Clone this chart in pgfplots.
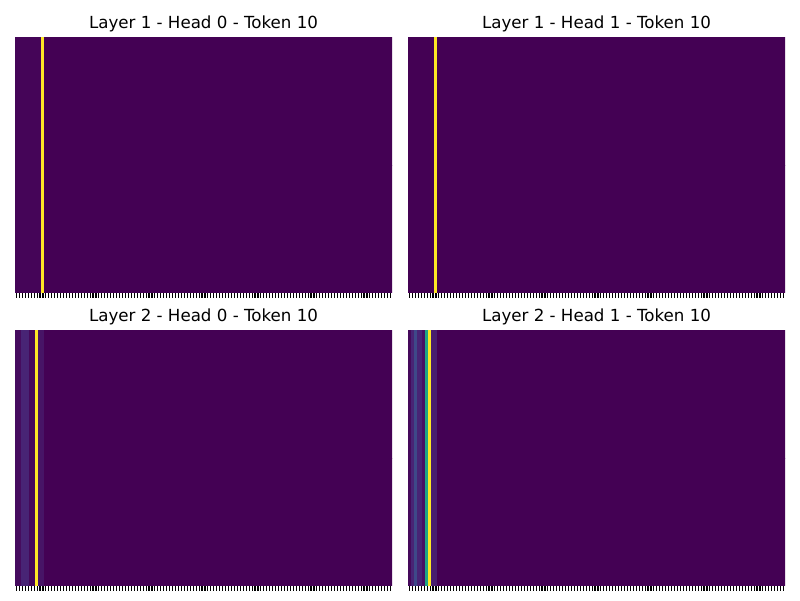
\documentclass[border=0pt]{standalone}
\usepackage{pgfplots}
\pgfplotsset{compat=1.18}
\usepackage{fontspec}
\setmainfont{DejaVu Sans}
\begin{document}
\begin{tikzpicture}
\pgfplotsset{
 hm/.style={
  scale only axis, width=282.75pt, height=192pt, anchor=north west,
  xmin=-0.5, xmax=127.5, ymin=-0.5, ymax=1.5, enlargelimits=false,
  axis line style={draw=none},
  xtick={0,1,...,127}, xticklabel={\relax}, xtick pos=bottom, xtick align=outside,
  major tick length=3.65pt, every tick/.style={black, line width=0.83pt},
  ytick=\empty,
  colormap/viridis, point meta min=0, point meta max=1,
  every axis title/.style={at={(0.5,1)}, anchor=base, yshift=6.25pt, font=\fontsize{12.5}{15}\selectfont},
 },
 hmplot/.style={matrix plot*, mesh/cols=128, mesh/rows=2, mesh/ordering=x varies, point meta=explicit}
}
\path[fill=white] (0,0) rectangle (600pt,-450pt);
% Layer 1 - Head 0
\begin{axis}[hm, at={(11.25pt,-27.75pt)}, title={Layer 1 - Head 0 - Token 10}]
\addplot[hmplot] coordinates {
(0,0)[0.01] (1,0)[0.01] (2,0)[0.01] (3,0)[0.01] (4,0)[0.01] (5,0)[0.01] (6,0)[0.01] (7,0)[0.01] (8,0)[0.01] (9,0)[1]
(10,0)[0] (11,0)[0] (12,0)[0] (13,0)[0] (14,0)[0] (15,0)[0] (16,0)[0] (17,0)[0] (18,0)[0] (19,0)[0]
(20,0)[0] (21,0)[0] (22,0)[0] (23,0)[0] (24,0)[0] (25,0)[0] (26,0)[0] (27,0)[0] (28,0)[0] (29,0)[0]
(30,0)[0] (31,0)[0] (32,0)[0] (33,0)[0] (34,0)[0] (35,0)[0] (36,0)[0] (37,0)[0] (38,0)[0] (39,0)[0]
(40,0)[0] (41,0)[0] (42,0)[0] (43,0)[0] (44,0)[0] (45,0)[0] (46,0)[0] (47,0)[0] (48,0)[0] (49,0)[0]
(50,0)[0] (51,0)[0] (52,0)[0] (53,0)[0] (54,0)[0] (55,0)[0] (56,0)[0] (57,0)[0] (58,0)[0] (59,0)[0]
(60,0)[0] (61,0)[0] (62,0)[0] (63,0)[0] (64,0)[0] (65,0)[0] (66,0)[0] (67,0)[0] (68,0)[0] (69,0)[0]
(70,0)[0] (71,0)[0] (72,0)[0] (73,0)[0] (74,0)[0] (75,0)[0] (76,0)[0] (77,0)[0] (78,0)[0] (79,0)[0]
(80,0)[0] (81,0)[0] (82,0)[0] (83,0)[0] (84,0)[0] (85,0)[0] (86,0)[0] (87,0)[0] (88,0)[0] (89,0)[0]
(90,0)[0] (91,0)[0] (92,0)[0] (93,0)[0] (94,0)[0] (95,0)[0] (96,0)[0] (97,0)[0] (98,0)[0] (99,0)[0]
(100,0)[0] (101,0)[0] (102,0)[0] (103,0)[0] (104,0)[0] (105,0)[0] (106,0)[0] (107,0)[0] (108,0)[0] (109,0)[0]
(110,0)[0] (111,0)[0] (112,0)[0] (113,0)[0] (114,0)[0] (115,0)[0] (116,0)[0] (117,0)[0] (118,0)[0] (119,0)[0]
(120,0)[0] (121,0)[0] (122,0)[0] (123,0)[0] (124,0)[0] (125,0)[0] (126,0)[0] (127,0)[0]
(0,1)[0.01] (1,1)[0.01] (2,1)[0.01] (3,1)[0.01] (4,1)[0.01] (5,1)[0.01] (6,1)[0.01] (7,1)[0.01] (8,1)[0.01] (9,1)[1]
(10,1)[0] (11,1)[0] (12,1)[0] (13,1)[0] (14,1)[0] (15,1)[0] (16,1)[0] (17,1)[0] (18,1)[0] (19,1)[0]
(20,1)[0] (21,1)[0] (22,1)[0] (23,1)[0] (24,1)[0] (25,1)[0] (26,1)[0] (27,1)[0] (28,1)[0] (29,1)[0]
(30,1)[0] (31,1)[0] (32,1)[0] (33,1)[0] (34,1)[0] (35,1)[0] (36,1)[0] (37,1)[0] (38,1)[0] (39,1)[0]
(40,1)[0] (41,1)[0] (42,1)[0] (43,1)[0] (44,1)[0] (45,1)[0] (46,1)[0] (47,1)[0] (48,1)[0] (49,1)[0]
(50,1)[0] (51,1)[0] (52,1)[0] (53,1)[0] (54,1)[0] (55,1)[0] (56,1)[0] (57,1)[0] (58,1)[0] (59,1)[0]
(60,1)[0] (61,1)[0] (62,1)[0] (63,1)[0] (64,1)[0] (65,1)[0] (66,1)[0] (67,1)[0] (68,1)[0] (69,1)[0]
(70,1)[0] (71,1)[0] (72,1)[0] (73,1)[0] (74,1)[0] (75,1)[0] (76,1)[0] (77,1)[0] (78,1)[0] (79,1)[0]
(80,1)[0] (81,1)[0] (82,1)[0] (83,1)[0] (84,1)[0] (85,1)[0] (86,1)[0] (87,1)[0] (88,1)[0] (89,1)[0]
(90,1)[0] (91,1)[0] (92,1)[0] (93,1)[0] (94,1)[0] (95,1)[0] (96,1)[0] (97,1)[0] (98,1)[0] (99,1)[0]
(100,1)[0] (101,1)[0] (102,1)[0] (103,1)[0] (104,1)[0] (105,1)[0] (106,1)[0] (107,1)[0] (108,1)[0] (109,1)[0]
(110,1)[0] (111,1)[0] (112,1)[0] (113,1)[0] (114,1)[0] (115,1)[0] (116,1)[0] (117,1)[0] (118,1)[0] (119,1)[0]
(120,1)[0] (121,1)[0] (122,1)[0] (123,1)[0] (124,1)[0] (125,1)[0] (126,1)[0] (127,1)[0]
};
\end{axis}
% Layer 1 - Head 1
\begin{axis}[hm, at={(306pt,-27.75pt)}, title={Layer 1 - Head 1 - Token 10}]
\addplot[hmplot] coordinates {
(0,0)[0] (1,0)[0] (2,0)[0] (3,0)[0] (4,0)[0] (5,0)[0] (6,0)[0] (7,0)[0] (8,0)[0] (9,0)[1]
(10,0)[0] (11,0)[0] (12,0)[0] (13,0)[0] (14,0)[0] (15,0)[0] (16,0)[0] (17,0)[0] (18,0)[0] (19,0)[0]
(20,0)[0] (21,0)[0] (22,0)[0] (23,0)[0] (24,0)[0] (25,0)[0] (26,0)[0] (27,0)[0] (28,0)[0] (29,0)[0]
(30,0)[0] (31,0)[0] (32,0)[0] (33,0)[0] (34,0)[0] (35,0)[0] (36,0)[0] (37,0)[0] (38,0)[0] (39,0)[0]
(40,0)[0] (41,0)[0] (42,0)[0] (43,0)[0] (44,0)[0] (45,0)[0] (46,0)[0] (47,0)[0] (48,0)[0] (49,0)[0]
(50,0)[0] (51,0)[0] (52,0)[0] (53,0)[0] (54,0)[0] (55,0)[0] (56,0)[0] (57,0)[0] (58,0)[0] (59,0)[0]
(60,0)[0] (61,0)[0] (62,0)[0] (63,0)[0] (64,0)[0] (65,0)[0] (66,0)[0] (67,0)[0] (68,0)[0] (69,0)[0]
(70,0)[0] (71,0)[0] (72,0)[0] (73,0)[0] (74,0)[0] (75,0)[0] (76,0)[0] (77,0)[0] (78,0)[0] (79,0)[0]
(80,0)[0] (81,0)[0] (82,0)[0] (83,0)[0] (84,0)[0] (85,0)[0] (86,0)[0] (87,0)[0] (88,0)[0] (89,0)[0]
(90,0)[0] (91,0)[0] (92,0)[0] (93,0)[0] (94,0)[0] (95,0)[0] (96,0)[0] (97,0)[0] (98,0)[0] (99,0)[0]
(100,0)[0] (101,0)[0] (102,0)[0] (103,0)[0] (104,0)[0] (105,0)[0] (106,0)[0] (107,0)[0] (108,0)[0] (109,0)[0]
(110,0)[0] (111,0)[0] (112,0)[0] (113,0)[0] (114,0)[0] (115,0)[0] (116,0)[0] (117,0)[0] (118,0)[0] (119,0)[0]
(120,0)[0] (121,0)[0] (122,0)[0] (123,0)[0] (124,0)[0] (125,0)[0] (126,0)[0] (127,0)[0]
(0,1)[0] (1,1)[0] (2,1)[0] (3,1)[0] (4,1)[0] (5,1)[0] (6,1)[0] (7,1)[0] (8,1)[0] (9,1)[1]
(10,1)[0] (11,1)[0] (12,1)[0] (13,1)[0] (14,1)[0] (15,1)[0] (16,1)[0] (17,1)[0] (18,1)[0] (19,1)[0]
(20,1)[0] (21,1)[0] (22,1)[0] (23,1)[0] (24,1)[0] (25,1)[0] (26,1)[0] (27,1)[0] (28,1)[0] (29,1)[0]
(30,1)[0] (31,1)[0] (32,1)[0] (33,1)[0] (34,1)[0] (35,1)[0] (36,1)[0] (37,1)[0] (38,1)[0] (39,1)[0]
(40,1)[0] (41,1)[0] (42,1)[0] (43,1)[0] (44,1)[0] (45,1)[0] (46,1)[0] (47,1)[0] (48,1)[0] (49,1)[0]
(50,1)[0] (51,1)[0] (52,1)[0] (53,1)[0] (54,1)[0] (55,1)[0] (56,1)[0] (57,1)[0] (58,1)[0] (59,1)[0]
(60,1)[0] (61,1)[0] (62,1)[0] (63,1)[0] (64,1)[0] (65,1)[0] (66,1)[0] (67,1)[0] (68,1)[0] (69,1)[0]
(70,1)[0] (71,1)[0] (72,1)[0] (73,1)[0] (74,1)[0] (75,1)[0] (76,1)[0] (77,1)[0] (78,1)[0] (79,1)[0]
(80,1)[0] (81,1)[0] (82,1)[0] (83,1)[0] (84,1)[0] (85,1)[0] (86,1)[0] (87,1)[0] (88,1)[0] (89,1)[0]
(90,1)[0] (91,1)[0] (92,1)[0] (93,1)[0] (94,1)[0] (95,1)[0] (96,1)[0] (97,1)[0] (98,1)[0] (99,1)[0]
(100,1)[0] (101,1)[0] (102,1)[0] (103,1)[0] (104,1)[0] (105,1)[0] (106,1)[0] (107,1)[0] (108,1)[0] (109,1)[0]
(110,1)[0] (111,1)[0] (112,1)[0] (113,1)[0] (114,1)[0] (115,1)[0] (116,1)[0] (117,1)[0] (118,1)[0] (119,1)[0]
(120,1)[0] (121,1)[0] (122,1)[0] (123,1)[0] (124,1)[0] (125,1)[0] (126,1)[0] (127,1)[0]
};
\end{axis}
% Layer 2 - Head 0
\begin{axis}[hm, at={(11.25pt,-247.5pt)}, title={Layer 2 - Head 0 - Token 10}]
\addplot[hmplot] coordinates {
(0,0)[0.03] (1,0)[0.03] (2,0)[0.1] (3,0)[0.1] (4,0)[0.1] (5,0)[0.02] (6,0)[0.02] (7,0)[1] (8,0)[0.05] (9,0)[0.05]
(10,0)[0] (11,0)[0] (12,0)[0] (13,0)[0] (14,0)[0] (15,0)[0] (16,0)[0] (17,0)[0] (18,0)[0] (19,0)[0]
(20,0)[0] (21,0)[0] (22,0)[0] (23,0)[0] (24,0)[0] (25,0)[0] (26,0)[0] (27,0)[0] (28,0)[0] (29,0)[0]
(30,0)[0] (31,0)[0] (32,0)[0] (33,0)[0] (34,0)[0] (35,0)[0] (36,0)[0] (37,0)[0] (38,0)[0] (39,0)[0]
(40,0)[0] (41,0)[0] (42,0)[0] (43,0)[0] (44,0)[0] (45,0)[0] (46,0)[0] (47,0)[0] (48,0)[0] (49,0)[0]
(50,0)[0] (51,0)[0] (52,0)[0] (53,0)[0] (54,0)[0] (55,0)[0] (56,0)[0] (57,0)[0] (58,0)[0] (59,0)[0]
(60,0)[0] (61,0)[0] (62,0)[0] (63,0)[0] (64,0)[0] (65,0)[0] (66,0)[0] (67,0)[0] (68,0)[0] (69,0)[0]
(70,0)[0] (71,0)[0] (72,0)[0] (73,0)[0] (74,0)[0] (75,0)[0] (76,0)[0] (77,0)[0] (78,0)[0] (79,0)[0]
(80,0)[0] (81,0)[0] (82,0)[0] (83,0)[0] (84,0)[0] (85,0)[0] (86,0)[0] (87,0)[0] (88,0)[0] (89,0)[0]
(90,0)[0] (91,0)[0] (92,0)[0] (93,0)[0] (94,0)[0] (95,0)[0] (96,0)[0] (97,0)[0] (98,0)[0] (99,0)[0]
(100,0)[0] (101,0)[0] (102,0)[0] (103,0)[0] (104,0)[0] (105,0)[0] (106,0)[0] (107,0)[0] (108,0)[0] (109,0)[0]
(110,0)[0] (111,0)[0] (112,0)[0] (113,0)[0] (114,0)[0] (115,0)[0] (116,0)[0] (117,0)[0] (118,0)[0] (119,0)[0]
(120,0)[0] (121,0)[0] (122,0)[0] (123,0)[0] (124,0)[0] (125,0)[0] (126,0)[0] (127,0)[0]
(0,1)[0.03] (1,1)[0.03] (2,1)[0.1] (3,1)[0.1] (4,1)[0.1] (5,1)[0.02] (6,1)[0.02] (7,1)[1] (8,1)[0.05] (9,1)[0.05]
(10,1)[0] (11,1)[0] (12,1)[0] (13,1)[0] (14,1)[0] (15,1)[0] (16,1)[0] (17,1)[0] (18,1)[0] (19,1)[0]
(20,1)[0] (21,1)[0] (22,1)[0] (23,1)[0] (24,1)[0] (25,1)[0] (26,1)[0] (27,1)[0] (28,1)[0] (29,1)[0]
(30,1)[0] (31,1)[0] (32,1)[0] (33,1)[0] (34,1)[0] (35,1)[0] (36,1)[0] (37,1)[0] (38,1)[0] (39,1)[0]
(40,1)[0] (41,1)[0] (42,1)[0] (43,1)[0] (44,1)[0] (45,1)[0] (46,1)[0] (47,1)[0] (48,1)[0] (49,1)[0]
(50,1)[0] (51,1)[0] (52,1)[0] (53,1)[0] (54,1)[0] (55,1)[0] (56,1)[0] (57,1)[0] (58,1)[0] (59,1)[0]
(60,1)[0] (61,1)[0] (62,1)[0] (63,1)[0] (64,1)[0] (65,1)[0] (66,1)[0] (67,1)[0] (68,1)[0] (69,1)[0]
(70,1)[0] (71,1)[0] (72,1)[0] (73,1)[0] (74,1)[0] (75,1)[0] (76,1)[0] (77,1)[0] (78,1)[0] (79,1)[0]
(80,1)[0] (81,1)[0] (82,1)[0] (83,1)[0] (84,1)[0] (85,1)[0] (86,1)[0] (87,1)[0] (88,1)[0] (89,1)[0]
(90,1)[0] (91,1)[0] (92,1)[0] (93,1)[0] (94,1)[0] (95,1)[0] (96,1)[0] (97,1)[0] (98,1)[0] (99,1)[0]
(100,1)[0] (101,1)[0] (102,1)[0] (103,1)[0] (104,1)[0] (105,1)[0] (106,1)[0] (107,1)[0] (108,1)[0] (109,1)[0]
(110,1)[0] (111,1)[0] (112,1)[0] (113,1)[0] (114,1)[0] (115,1)[0] (116,1)[0] (117,1)[0] (118,1)[0] (119,1)[0]
(120,1)[0] (121,1)[0] (122,1)[0] (123,1)[0] (124,1)[0] (125,1)[0] (126,1)[0] (127,1)[0]
};
\end{axis}
% Layer 2 - Head 1
\begin{axis}[hm, at={(306pt,-247.5pt)}, title={Layer 2 - Head 1 - Token 10}]
\addplot[hmplot] coordinates {
(0,0)[0.02] (1,0)[0.1] (2,0)[0.22] (3,0)[0.1] (4,0)[0.1] (5,0)[0.04] (6,0)[0.58] (7,0)[1] (8,0)[0.08] (9,0)[0.08]
(10,0)[0] (11,0)[0] (12,0)[0] (13,0)[0] (14,0)[0] (15,0)[0] (16,0)[0] (17,0)[0] (18,0)[0] (19,0)[0]
(20,0)[0] (21,0)[0] (22,0)[0] (23,0)[0] (24,0)[0] (25,0)[0] (26,0)[0] (27,0)[0] (28,0)[0] (29,0)[0]
(30,0)[0] (31,0)[0] (32,0)[0] (33,0)[0] (34,0)[0] (35,0)[0] (36,0)[0] (37,0)[0] (38,0)[0] (39,0)[0]
(40,0)[0] (41,0)[0] (42,0)[0] (43,0)[0] (44,0)[0] (45,0)[0] (46,0)[0] (47,0)[0] (48,0)[0] (49,0)[0]
(50,0)[0] (51,0)[0] (52,0)[0] (53,0)[0] (54,0)[0] (55,0)[0] (56,0)[0] (57,0)[0] (58,0)[0] (59,0)[0]
(60,0)[0] (61,0)[0] (62,0)[0] (63,0)[0] (64,0)[0] (65,0)[0] (66,0)[0] (67,0)[0] (68,0)[0] (69,0)[0]
(70,0)[0] (71,0)[0] (72,0)[0] (73,0)[0] (74,0)[0] (75,0)[0] (76,0)[0] (77,0)[0] (78,0)[0] (79,0)[0]
(80,0)[0] (81,0)[0] (82,0)[0] (83,0)[0] (84,0)[0] (85,0)[0] (86,0)[0] (87,0)[0] (88,0)[0] (89,0)[0]
(90,0)[0] (91,0)[0] (92,0)[0] (93,0)[0] (94,0)[0] (95,0)[0] (96,0)[0] (97,0)[0] (98,0)[0] (99,0)[0]
(100,0)[0] (101,0)[0] (102,0)[0] (103,0)[0] (104,0)[0] (105,0)[0] (106,0)[0] (107,0)[0] (108,0)[0] (109,0)[0]
(110,0)[0] (111,0)[0] (112,0)[0] (113,0)[0] (114,0)[0] (115,0)[0] (116,0)[0] (117,0)[0] (118,0)[0] (119,0)[0]
(120,0)[0] (121,0)[0] (122,0)[0] (123,0)[0] (124,0)[0] (125,0)[0] (126,0)[0] (127,0)[0]
(0,1)[0.02] (1,1)[0.1] (2,1)[0.22] (3,1)[0.1] (4,1)[0.1] (5,1)[0.04] (6,1)[0.58] (7,1)[1] (8,1)[0.08] (9,1)[0.08]
(10,1)[0] (11,1)[0] (12,1)[0] (13,1)[0] (14,1)[0] (15,1)[0] (16,1)[0] (17,1)[0] (18,1)[0] (19,1)[0]
(20,1)[0] (21,1)[0] (22,1)[0] (23,1)[0] (24,1)[0] (25,1)[0] (26,1)[0] (27,1)[0] (28,1)[0] (29,1)[0]
(30,1)[0] (31,1)[0] (32,1)[0] (33,1)[0] (34,1)[0] (35,1)[0] (36,1)[0] (37,1)[0] (38,1)[0] (39,1)[0]
(40,1)[0] (41,1)[0] (42,1)[0] (43,1)[0] (44,1)[0] (45,1)[0] (46,1)[0] (47,1)[0] (48,1)[0] (49,1)[0]
(50,1)[0] (51,1)[0] (52,1)[0] (53,1)[0] (54,1)[0] (55,1)[0] (56,1)[0] (57,1)[0] (58,1)[0] (59,1)[0]
(60,1)[0] (61,1)[0] (62,1)[0] (63,1)[0] (64,1)[0] (65,1)[0] (66,1)[0] (67,1)[0] (68,1)[0] (69,1)[0]
(70,1)[0] (71,1)[0] (72,1)[0] (73,1)[0] (74,1)[0] (75,1)[0] (76,1)[0] (77,1)[0] (78,1)[0] (79,1)[0]
(80,1)[0] (81,1)[0] (82,1)[0] (83,1)[0] (84,1)[0] (85,1)[0] (86,1)[0] (87,1)[0] (88,1)[0] (89,1)[0]
(90,1)[0] (91,1)[0] (92,1)[0] (93,1)[0] (94,1)[0] (95,1)[0] (96,1)[0] (97,1)[0] (98,1)[0] (99,1)[0]
(100,1)[0] (101,1)[0] (102,1)[0] (103,1)[0] (104,1)[0] (105,1)[0] (106,1)[0] (107,1)[0] (108,1)[0] (109,1)[0]
(110,1)[0] (111,1)[0] (112,1)[0] (113,1)[0] (114,1)[0] (115,1)[0] (116,1)[0] (117,1)[0] (118,1)[0] (119,1)[0]
(120,1)[0] (121,1)[0] (122,1)[0] (123,1)[0] (124,1)[0] (125,1)[0] (126,1)[0] (127,1)[0]
};
\end{axis}
\end{tikzpicture}
\end{document}
